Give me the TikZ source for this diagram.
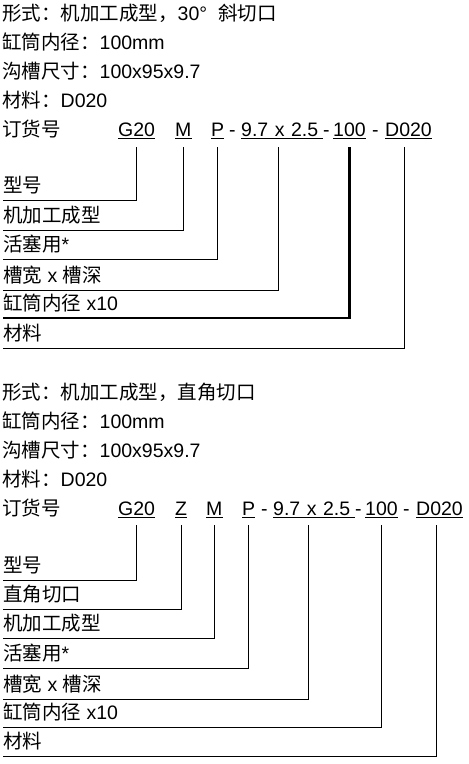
\documentclass[tikz,border=0pt]{standalone}
\usepackage{fontspec}
\setmainfont{Liberation Sans}
\newfontfamily\cjk{Noto Sans CJK SC}
\usepackage{tikz}
\usetikzlibrary{positioning}

\begin{document}
\begin{tikzpicture}[x=1pt, y=-1pt,
  font=\fontsize{19.5}{23}\selectfont,
  txt/.style={anchor=base west, inner sep=0pt},
  code/.style={anchor=base west, inner sep=0pt, text depth=2pt},
  dim/.style={code, text width=82pt},
  lbl/.style={anchor=south west, inner xsep=0pt, inner ysep=7pt, text depth=0pt},
  lead/.style={draw=black, line width=1pt},
  leadbold/.style={lead, line width=2.6pt},
  uline/.style={draw=black, line width=1.1pt},
]
\useasboundingbox (0,0) rectangle (469,764);

\node[txt] (formA) at (2,20) {{\cjk 形式：机加工成型，}30°\hspace{11pt}{\cjk 斜切口}};
\node[txt] (boreinA) at (2,49) {{\cjk 缸筒内径：}100mm};
\node[txt] (grooveA) at (2,78) {{\cjk 沟槽尺寸：}100x95x9.7};
\node[txt] (mattA) at (2,107) {{\cjk 材料：}D020};
\node[txt] (orderA) at (2,136) {\cjk 订货号};
\node[code] (gA) at (118,136) {G20};
\node[code] (mA) at (175,136) {M};
\node[code] (pA) at (211,136) {P};
\node[txt] at (229,136) {-};
\node[dim] (dimA) at (241,136) {9.7 x 2.5};
\node[txt] at (323,136) {-};
\node[code] (boreA) at (333,136) {100};
\node[txt] at (372,136) {-};
\node[code] (matA) at (385,136) {D020};

\node[lbl] (typeA) at (3,200) {\cjk 型号};
\node[lbl] (machA) at (3,230) {\cjk 机加工成型};
\node[lbl] (pistA) at (3,259) {{\cjk 活塞用}*};
\node[lbl] (wdA) at (3,290) {{\cjk 槽宽} x {\cjk 槽深}};
\node[lbl] (diaA) at (3,318) {{\cjk 缸筒内径} x10};
\node[lbl] (mtA) at (3,348) {\cjk 材料};

\draw[lead] ([yshift=-9pt]gA.south) |- (typeA.south west);
\draw[lead] ([yshift=-9pt]mA.south) |- (machA.south west);
\draw[lead] ([yshift=-9pt]pA.south) |- (pistA.south west);
\draw[lead] ([yshift=-9pt,xshift=-4pt]dimA.south) |- (wdA.south west);
\draw[leadbold] ([yshift=-9pt]boreA.south) |- (diaA.south west);
\draw[lead] ([yshift=-9pt,xshift=-4pt]matA.south) |- (mtA.south west);

\node[txt] (formB) at (2,399) {\cjk 形式：机加工成型，直角切口};
\node[txt] (boreinB) at (2,428) {{\cjk 缸筒内径：}100mm};
\node[txt] (grooveB) at (2,457) {{\cjk 沟槽尺寸：}100x95x9.7};
\node[txt] (mattB) at (2,486) {{\cjk 材料：}D020};
\node[txt] (orderB) at (2,515) {\cjk 订货号};
\node[code] (gB) at (118,515) {G20};
\node[code] (zB) at (175,515) {Z};
\node[code] (mB) at (206,515) {M};
\node[code] (pB) at (242,515) {P};
\node[txt] at (261,515) {-};
\node[dim] (dimB) at (273,515) {9.7 x 2.5};
\node[txt] at (355,515) {-};
\node[code] (boreB) at (365,515) {100};
\node[txt] at (403,515) {-};
\node[code] (matB) at (416,515) {D020};

\node[lbl] (typeB) at (3,580) {\cjk 型号};
\node[lbl] (cutB) at (3,609) {\cjk 直角切口};
\node[lbl] (machB) at (3,638) {\cjk 机加工成型};
\node[lbl] (pistB) at (3,668) {{\cjk 活塞用}*};
\node[lbl] (wdB) at (3,699) {{\cjk 槽宽} x {\cjk 槽深}};
\node[lbl] (diaB) at (3,727) {{\cjk 缸筒内径} x10};
\node[lbl] (mtB) at (3,756) {\cjk 材料};

\draw[lead] ([yshift=-8pt]gB.south) |- (typeB.south west);
\draw[lead] ([yshift=-8pt]zB.south) |- (cutB.south west);
\draw[lead] ([yshift=-8pt]mB.south) |- (machB.south west);
\draw[lead] ([yshift=-8pt]pB.south) |- (pistB.south west);
\draw[lead] ([yshift=-8pt,xshift=-6pt]dimB.south) |- (wdB.south west);
\draw[lead] ([yshift=-8pt]boreB.south) |- (diaB.south west);
\draw[lead] ([yshift=-8pt,xshift=-3pt]matB.south) |- (mtB.south west);

\foreach \n in {gA,mA,pA,dimA,boreA,matA,gB,zB,mB,pB,dimB,boreB,matB}
  \draw[uline] (\n.south west) -- (\n.south east);
\end{tikzpicture}
\end{document}
